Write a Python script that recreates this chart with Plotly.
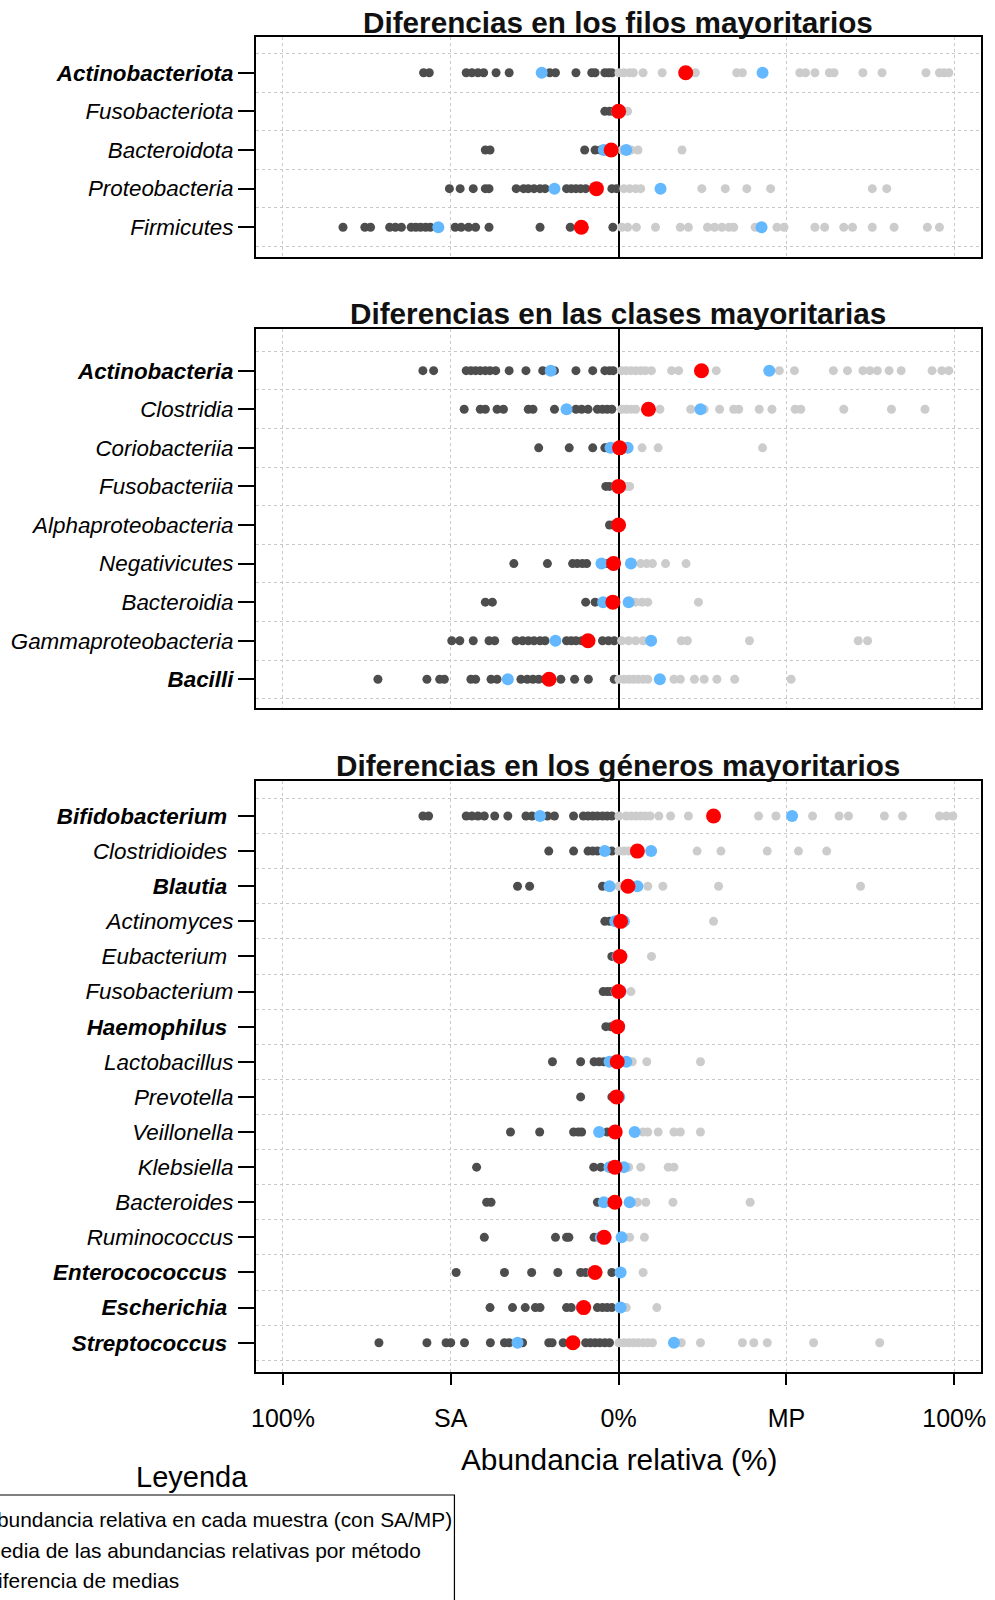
import plotly.graph_objects as go

# ---------------- DATA ----------------
# Panel 1: phyla
phyla = ["Actinobacteriota", "Fusobacteriota", "Bacteroidota", "Proteobacteria", "Firmicutes"]
phyla_bold = ["Actinobacteriota"]
phyla_sa = [
    [-58.1, -56.4, -45.4, -43.7, -41.9, -40.2, -36.5, -32.6, -20.5, -18.8, -12.7, -8.0, -7.0, -4.1, -3.0, -2.0],
    [-4.1, -2.7, -1.6],
    [-39.7, -38.3, -10.1, -7.0, -5.3, -3.4, -1.3],
    [-50.4, -47.2, -43.3, -39.7, -38.6, -30.5, -28.3, -26.9, -25.2, -23.4, -21.9, -15.5, -14.1, -12.7, -11.3, -9.8, -2.0, -0.6],
    [-82.1, -75.6, -73.9, -68.2, -66.5, -64.7, -61.8, -60.4, -59.0, -57.5, -56.1, -48.7, -46.9, -44.7, -42.6, -38.6, -23.4, -14.4, -1.7],
]
phyla_mp = [
    [0.1, 1.6, 3.3, 4.4, 7.3, 13.0, 22.9, 35.2, 36.9, 54.0, 55.7, 58.5, 62.8, 64.2, 72.8, 78.5, 91.6, 95.6, 97.0, 98.4],
    [1.6, 2.7],
    [1.0, 3.7, 5.8, 18.9],
    [1.6, 3.3, 5.1, 6.6, 24.8, 31.8, 38.2, 45.3, 75.6, 79.9],
    [0.9, 2.7, 5.3, 11.0, 18.4, 20.8, 26.5, 28.6, 30.8, 32.9, 34.3, 40.7, 47.2, 49.3, 58.5, 61.4, 67.1, 69.7, 75.6, 82.1, 92.0, 95.6],
]
phyla_mean_sa = [-22.9, -0.5, -4.4, -19.1, -53.7]
phyla_mean_mp = [42.9, 0.5, 2.3, 12.5, 42.6]
phyla_diff = [20.0, 0.0, -2.2, -6.6, -11.1]

# Panel 2: classes
classes = ["Actinobacteria", "Clostridia", "Coriobacteriia", "Fusobacteriia", "Alphaproteobacteria",
           "Negativicutes", "Bacteroidia", "Gammaproteobacteria", "Bacilli"]
classes_bold = ["Actinobacteria", "Bacilli"]
classes_sa = [
    [-58.3, -55.1, -45.4, -44.0, -42.6, -41.2, -39.7, -38.3, -36.6, -32.6, -27.6, -22.6, -19.1, -12.7, -7.7, -4.1, -2.7, -1.6],
    [-46.0, -41.2, -39.7, -36.2, -34.3, -26.9, -25.5, -19.1, -12.7, -11.0, -9.1, -6.3, -4.8, -3.4, -2.0],
    [-23.8, -14.7, -7.7, -4.1, -3.4],
    [-3.8, -2.7],
    [-2.7, -1.6],
    [-31.2, -21.2, -13.7, -12.3, -10.8, -9.5, -3.4],
    [-39.7, -37.6, -9.8, -7.0, -3.4],
    [-49.7, -47.3, -43.3, -38.6, -36.9, -30.5, -28.6, -26.9, -25.2, -23.4, -21.9, -15.5, -14.1, -12.7, -11.0, -4.8, -3.0, -1.3],
    [-71.7, -57.1, -53.3, -51.9, -44.0, -42.6, -38.0, -36.2, -29.1, -27.2, -25.5, -23.8, -21.9, -17.2, -13.1, -9.0, -1.3],
]
classes_mp = [
    [0.9, 2.3, 3.7, 5.1, 6.6, 8.0, 9.8, 15.8, 17.9, 29.1, 47.9, 52.4, 64.0, 68.2, 72.8, 74.9, 77.1, 80.6, 84.2, 93.4, 96.3, 98.4],
    [0.9, 2.3, 3.7, 5.1, 12.3, 21.5, 25.5, 30.1, 34.3, 35.8, 41.9, 45.7, 52.6, 54.3, 67.1, 81.3, 91.3],
    [1.5, 7.0, 11.8, 42.9],
    [2.3, 3.3],
    [0.5],
    [6.6, 8.4, 10.1, 14.0, 20.1],
    [5.1, 7.0, 8.7, 23.8],
    [0.9, 3.0, 5.1, 7.3, 18.7, 20.5, 39.0, 71.4, 74.2],
    [0.1, 1.6, 3.0, 4.4, 5.8, 7.3, 8.7, 16.5, 18.4, 22.6, 25.5, 29.3, 34.6, 51.4],
]
classes_mean_sa = [-20.2, -15.5, -2.4, -0.4, -0.3, -5.1, -4.6, -18.8, -33.0]
classes_mean_mp = [44.9, 24.4, 2.7, 0.4, 0.3, 3.7, 3.0, 9.7, 12.3]
classes_diff = [24.7, 8.9, 0.3, 0.0, 0.0, -1.5, -1.7, -9.1, -20.7]

# Panel 3: genera
genera = ["Bifidobacterium", "Clostridioides", "Blautia", "Actinomyces", "Eubacterium", "Fusobacterium",
          "Haemophilus", "Lactobacillus", "Prevotella", "Veillonella", "Klebsiella", "Bacteroides",
          "Ruminococcus", "Enterocococcus", "Escherichia", "Streptococcus"]
genera_bold = ["Bifidobacterium", "Blautia", "Haemophilus", "Enterocococcus", "Escherichia", "Streptococcus"]
genera_trailing_space = ["Bifidobacterium", "Clostridioides", "Blautia", "Eubacterium", "Haemophilus",
                         "Enterocococcus", "Escherichia", "Streptococcus"]
genera_sa = [
    [-58.3, -56.6, -45.4, -43.7, -41.9, -40.0, -36.9, -33.0, -27.6, -25.8, -21.2, -19.1, -13.4, -10.5, -9.1, -7.7, -6.3, -4.8, -3.4, -2.0],
    [-20.8, -13.4, -9.1, -7.7, -6.3, -2.0],
    [-30.1, -26.5, -4.8],
    [-4.1, -2.7],
    [-2.0],
    [-4.6, -3.4, -2.4],
    [-3.8, -2.4],
    [-19.7, -11.3, -7.3, -5.8, -4.4],
    [-11.3, -2.0],
    [-32.2, -23.5, -13.4, -12.0, -11.0, -3.4, -2.0],
    [-42.3, -7.4, -5.3],
    [-39.3, -38.0, -6.3, -2.7],
    [-40.0, -18.8, -15.5, -14.8, -7.3],
    [-48.4, -34.0, -25.9, -18.1, -11.3, -9.8, -2.0],
    [-38.3, -31.6, -27.8, -24.8, -23.4, -15.5, -14.1, -6.3, -4.8, -3.4, -2.0],
    [-71.4, -57.1, -51.4, -50.0, -45.9, -38.2, -34.0, -32.6, -28.6, -20.8, -19.8, -16.5, -9.8, -8.4, -7.0, -5.6, -4.1, -2.7],
]
genera_mp = [
    [0.1, 2.3, 3.7, 5.1, 6.6, 8.0, 9.4, 12.0, 15.5, 20.8, 41.7, 46.9, 57.8, 65.7, 68.5, 79.2, 84.6, 95.6, 97.7, 99.6],
    [0.1, 1.6, 3.0, 23.4, 30.5, 44.3, 53.6, 62.0],
    [0.1, 8.7, 13.2, 29.8, 72.1],
    [28.3],
    [9.8],
    [3.7],
    [],
    [4.1, 8.4, 24.4],
    [],
    [7.3, 8.7, 11.8, 16.5, 18.4, 24.4],
    [3.0, 6.6, 14.8, 16.5],
    [5.6, 8.1, 16.2, 39.2],
    [3.3, 7.7],
    [7.3],
    [2.3, 11.4],
    [0.1, 1.6, 3.0, 4.4, 5.8, 7.3, 8.7, 10.1, 18.7, 24.4, 36.9, 40.3, 44.3, 58.1, 77.8],
]
genera_mean_sa = [-23.4, -4.1, -2.7, -1.0, -0.3, -0.6, -0.5, -2.7, -0.8, -5.8, -2.7, -4.4, -5.3, -7.6, -11.0, -30.1]
genera_mean_mp = [51.7, 9.7, 5.6, 1.6, 0.7, 0.6, 0.2, 2.3, 0.2, 4.8, 1.6, 3.3, 0.9, 0.6, 0.6, 16.5]
genera_diff = [28.3, 5.6, 2.8, 0.6, 0.4, 0.0, -0.3, -0.4, -0.6, -1.0, -1.1, -1.1, -4.3, -7.0, -10.4, -13.6]

titles = ["Diferencias en los filos mayoritarios",
          "Diferencias en las clases mayoritarias",
          "Diferencias en los géneros mayoritarios"]
x_tick_vals = [-100, -50, 0, 50, 100]
x_tick_text = ["100%", "SA", "0%", "MP", "100%"]
x_title = "Abundancia relativa (%)"
legend_title = "Leyenda"
legend_items = ["Abundancia relativa en cada muestra (con SA/MP)",
                "Media de las abundancias relativas por método",
                "Diferencia de medias"]

# ---------------- STYLE / LAYOUT ----------------
W, H = 995, 1600
FONT = "Liberation Sans, Arial, Helvetica, sans-serif"
C_SA = "#4d4d4d"
C_MP = "#cccccc"
C_MEAN = "#63b8ff"
C_DIFF = "#ff0000"
GRID = "#c8c8c8"

def px(xp):
    return xp / W

def py(yp):
    return 1 - yp / H

X_DOMAIN = [px(253.3), px(986.3)]
X_RANGE = [-108.1, 108.1]

panels = [
    dict(cats=phyla, bold=phyla_bold, trail=[], sa=phyla_sa, mp=phyla_mp, msa=phyla_mean_sa,
         mmp=phyla_mean_mp, diff=phyla_diff, top=37.3, bottom=256.7, yr=[5.761, 0.084], ty=22),
    dict(cats=classes, bold=classes_bold, trail=[], sa=classes_sa, mp=classes_mp, msa=classes_mean_sa,
         mmp=classes_mean_mp, diff=classes_diff, top=329.3, bottom=708.3, yr=[9.752, -0.073], ty=313.5),
    dict(cats=genera, bold=genera_bold, trail=genera_trailing_space, sa=genera_sa, mp=genera_mp,
         msa=genera_mean_sa, mmp=genera_mean_mp, diff=genera_diff, top=780.7, bottom=1371.7,
         yr=[16.826, -0.005], ty=765.5),
]

fig = go.Figure()
annotations = []
layout_axes = {}

for i, p in enumerate(panels):
    k = "" if i == 0 else str(i + 1)
    xa, ya = "x" + k, "y" + k
    n = len(p["cats"])
    pos = list(range(1, n + 1))

    # individual samples
    sx, sy, mx, my = [], [], [], []
    for j in range(n):
        sx += p["sa"][j]
        sy += [pos[j]] * len(p["sa"][j])
        mx += p["mp"][j]
        my += [pos[j]] * len(p["mp"][j])
    fig.add_trace(go.Scatter(x=sx, y=sy, mode="markers", xaxis=xa, yaxis=ya, showlegend=False,
                             marker=dict(color=C_SA, size=9, line=dict(width=0))))
    fig.add_trace(go.Scatter(x=mx, y=my, mode="markers", xaxis=xa, yaxis=ya, showlegend=False,
                             marker=dict(color=C_MP, size=9, line=dict(width=0))))
    # means per method
    fig.add_trace(go.Scatter(x=p["msa"] + p["mmp"], y=pos + pos, mode="markers", xaxis=xa, yaxis=ya,
                             showlegend=False, marker=dict(color=C_MEAN, size=12, line=dict(width=0))))
    # difference of means
    fig.add_trace(go.Scatter(x=p["diff"], y=pos, mode="markers", xaxis=xa, yaxis=ya, showlegend=False,
                             marker=dict(color=C_DIFF, size=15, line=dict(width=0))))

    labels = []
    for c in p["cats"]:
        t = "<b><i>%s</i></b>" % c if c in p["bold"] else "<i>%s</i>" % c
        if c in p["trail"]:
            t += "\u00a0"
        labels.append(t)

    last = (i == len(panels) - 1)
    layout_axes["xaxis" + k] = dict(
        domain=X_DOMAIN, range=X_RANGE, anchor=ya, tickmode="array", tickvals=x_tick_vals,
        ticktext=x_tick_text, showticklabels=last, ticks="outside" if last else "",
        ticklen=12, tickwidth=1.5, tickcolor="black", ticklabelstandoff=12,
        tickfont=dict(family=FONT, size=25, color="black"),
        showgrid=True, gridcolor=GRID, griddash="dot", gridwidth=1,
        zeroline=True, zerolinecolor="black", zerolinewidth=1.5,
        showline=True, mirror=True, linecolor="black", linewidth=1.5, fixedrange=True,
    )
    layout_axes["yaxis" + k] = dict(
        domain=[py(p["bottom"]), py(p["top"])], range=p["yr"], anchor=xa, tickmode="array",
        tickvals=pos, ticktext=labels, ticks="outside", ticklen=16, tickwidth=1.5, tickcolor="black",
        tickfont=dict(family=FONT, size=22.4, color="black"), showgrid=False, zeroline=False,
        minor=dict(tickmode="linear", tick0=0.5, dtick=1, showgrid=True, gridcolor=GRID,
                   griddash="dot", gridwidth=1, ticks=""),
        showline=True, mirror=True, linecolor="black", linewidth=1.5, fixedrange=True,
    )
    annotations.append(dict(text="<b>%s</b>" % titles[i], xref="paper", yref="paper",
                            x=px(619.5), y=py(p["ty"]), xanchor="center", yanchor="middle",
                            showarrow=False, font=dict(family=FONT, size=29.7, color="#111111")))

# axis title
annotations.append(dict(text=x_title, xref="paper", yref="paper", x=px(620.5), y=py(1459),
                        xanchor="center", yanchor="middle", showarrow=False,
                        font=dict(family=FONT, size=29.8, color="black")))
# legend
annotations.append(dict(text=legend_title, xref="paper", yref="paper", x=px(189), y=py(1477),
                        xanchor="center", yanchor="middle", showarrow=False,
                        font=dict(family=FONT, size=29, color="black")))
for j, (t, yy) in enumerate(zip(legend_items, [1519.5, 1550, 1580.8])):
    annotations.append(dict(text=t, xref="paper", yref="paper", x=px(-24), y=py(yy),
                            xanchor="left", yanchor="middle", showarrow=False,
                            font=dict(family=FONT, size=20.9, color="black")))

shapes = [dict(type="rect", xref="paper", yref="paper", x0=px(-40), x1=px(454),
               y0=py(1640), y1=py(1495), line=dict(color="black", width=1.2), fillcolor="rgba(0,0,0,0)")]

fig.update_layout(
    width=W, height=H, autosize=False, margin=dict(l=0, r=0, t=0, b=0),
    paper_bgcolor="white", plot_bgcolor="white", showlegend=False,
    annotations=annotations, shapes=shapes, **layout_axes,
)

fig.write_html("out.html")
